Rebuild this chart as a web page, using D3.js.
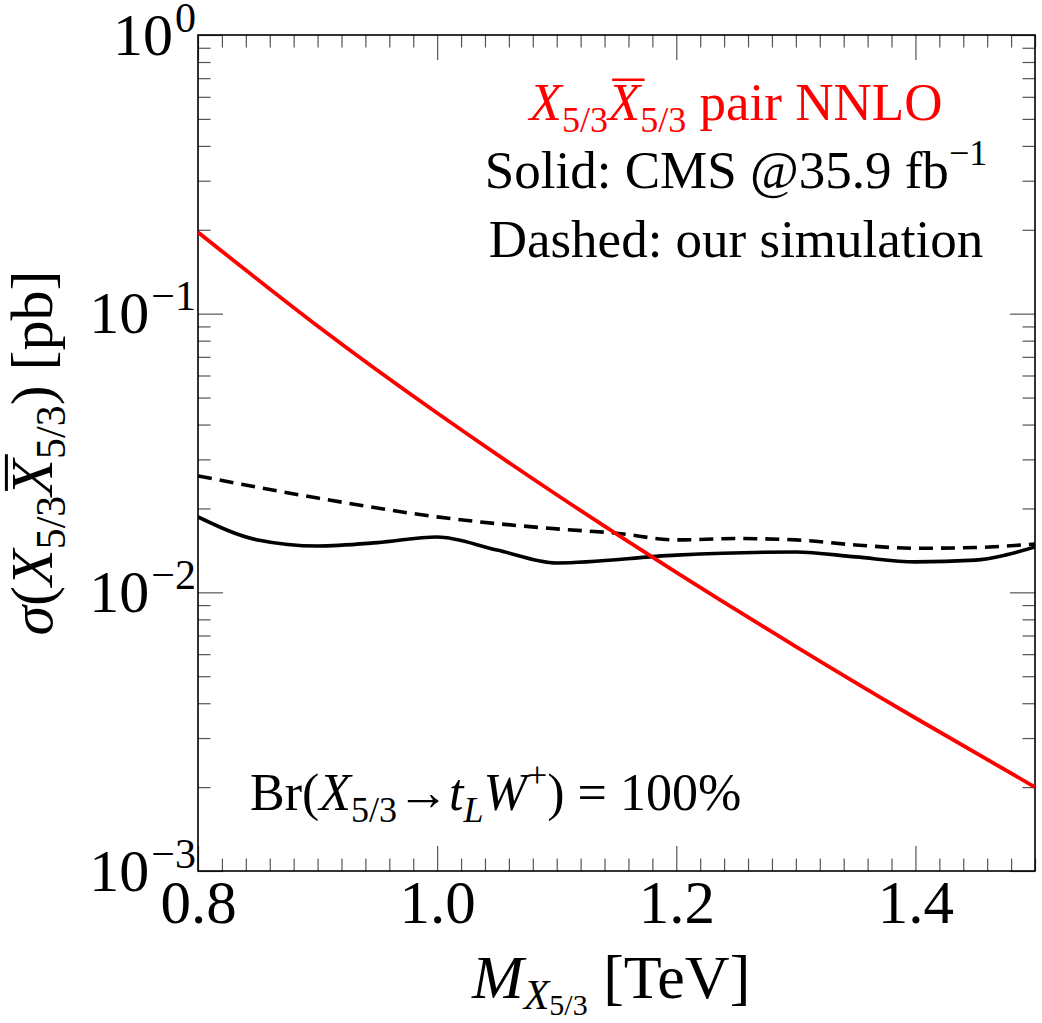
<!DOCTYPE html>
<html>
<head>
<meta charset="utf-8">
<script src="https://cdn.jsdelivr.net/npm/d3@7"></script>
<style>
  html, body { margin: 0; padding: 0; background: #fff; }
  svg { display: block; }
  text { font-family: "Liberation Serif", "Times New Roman", serif; white-space: pre; }
</style>
</head>
<body>
<div id="chart"></div>
<script>
// masses in TeV, cross sections in pb
const nnloMass = [0.8, 0.9, 1.0, 1.1, 1.2, 1.3, 1.4, 1.5];
const nnloXsec = [0.196, 0.0903, 0.0440, 0.0224, 0.0118, 0.00639, 0.00354, 0.00200];

// solid: CMS @35.9 fb^-1
const cmsMass = [0.8, 0.85, 0.9, 0.95, 1.0, 1.05, 1.1, 1.2, 1.3, 1.35, 1.4, 1.45, 1.475, 1.5];
const cmsLimit = [0.01865, 0.01542, 0.01467, 0.01508, 0.0158, 0.01419, 0.01275, 0.0136, 0.01396, 0.0134, 0.01286, 0.01305, 0.0136, 0.01455];

// dashed: our simulation
const simMass = [0.8, 0.9, 1.0, 1.1, 1.15, 1.2, 1.25, 1.3, 1.35, 1.4, 1.45, 1.5];
const simLimit = [0.02616, 0.0218, 0.01865, 0.01689, 0.0163, 0.01542, 0.0156, 0.01542, 0.01479, 0.01439, 0.01448, 0.01491];

const xMajor = [0.8, 1.0, 1.2, 1.4];
const yMajor = [1e-3, 1e-2, 1e-1, 1];
const yExp = ["\u22123", "\u22122", "\u22121", "0"];

const W = 1042, H = 1023;
const pL = 198, pR = 1035, pT = 35, pB = 871;

const svg = d3.select("#chart").append("svg")
    .attr("width", W)
    .attr("height", H);

const x = d3.scaleLinear().domain([0.8, 1.5]).range([pL, pR]);
const y = d3.scaleLog().domain([1e-3, 1]).range([pB, pT]);

// minor ticks
const xMinor = d3.range(0, 36).map(i => +(0.8 + i * 0.02).toFixed(2))
    .filter(v => !xMajor.some(m => Math.abs(m - v) < 1e-6));
const yMinor = [];
[-3, -2, -1].forEach(k => {
    for (let m = 2; m <= 9; m++) yMinor.push(m * Math.pow(10, k));
});

const majLen = 25, minLen = 12.5;
const tickCol = "#555";

function tickAxis(axisFn, scale, vals, len, tr) {
    const g = svg.append("g")
        .attr("transform", tr)
        .call(axisFn(scale).tickValues(vals).tickSizeInner(-len).tickSizeOuter(0).tickFormat(""));
    g.select(".domain").remove();
    g.selectAll(".tick line").attr("stroke", tickCol).attr("stroke-width", 1.2);
    return g;
}

tickAxis(d3.axisBottom, x, xMinor, minLen, `translate(0,${pB})`);
tickAxis(d3.axisBottom, x, xMajor, majLen, `translate(0,${pB})`);
tickAxis(d3.axisTop, x, xMinor, minLen, `translate(0,${pT})`);
tickAxis(d3.axisTop, x, xMajor, majLen, `translate(0,${pT})`);
tickAxis(d3.axisLeft, y, yMinor, minLen, `translate(${pL},0)`);
tickAxis(d3.axisLeft, y, yMajor, majLen, `translate(${pL},0)`);
tickAxis(d3.axisRight, y, yMinor, minLen, `translate(${pR},0)`);
tickAxis(d3.axisRight, y, yMajor, majLen, `translate(${pR},0)`);

// x tick labels
const xLab = svg.append("g")
    .attr("transform", `translate(0,${pB})`)
    .call(d3.axisBottom(x).tickValues(xMajor).tickSize(0).tickPadding(9).tickFormat(d3.format(".1f")));
xLab.select(".domain").remove();
xLab.selectAll("text")
    .attr("font-size", 61)
    .attr("font-family", "Liberation Serif")
    .attr("fill", "#000");

// rich text: segments laid out one after another
function rich(parent, px, py, segs, opts) {
    const outer = parent.append("g")
        .attr("transform", `translate(${px},${py})` + (opts.rotate ? ` rotate(${opts.rotate})` : ""));
    const g = outer.append("g");
    let cx = 0;
    segs.forEach(s => {
        const size = s.size || opts.size;
        const dy = s.dy || 0;
        const t = g.append("text")
            .attr("x", cx)
            .attr("y", dy)
            .attr("font-size", size)
            .attr("font-style", s.it ? "italic" : "normal")
            .attr("fill", opts.fill || "#000")
            .text(s.t);
        const w = t.node().getComputedTextLength();
        if (s.bar) {
            const yy = dy - size * 0.76;
            g.append("line")
                .attr("x1", cx + size * 0.08).attr("x2", cx + w + size * 0.08)
                .attr("y1", yy).attr("y2", yy)
                .attr("stroke", opts.fill || "#000")
                .attr("stroke-width", size * 0.05);
        }
        cx += w + (s.kern || 0);
    });
    const shift = opts.anchor === "end" ? -cx : opts.anchor === "middle" ? -cx / 2 : 0;
    g.attr("transform", `translate(${shift},0)`);
    return outer;
}

// y tick labels 10^k
yMajor.forEach((v, i) => {
    rich(svg, 196, y(v) + 19.5, [
        {t: "10", kern: 2},
        {t: yExp[i], size: 42, dy: -23}
    ], {size: 60, anchor: "end"});
});

// frame
svg.append("rect")
    .attr("x", pL).attr("y", pT)
    .attr("width", pR - pL).attr("height", pB - pT)
    .attr("fill", "none")
    .attr("stroke", "#000")
    .attr("stroke-width", 1.6);

// curves
svg.append("clipPath").attr("id", "plotclip")
    .append("rect")
    .attr("x", pL).attr("y", pT)
    .attr("width", pR - pL).attr("height", pB - pT);

const plot = svg.append("g").attr("clip-path", "url(#plotclip)");

const line = d3.line()
    .x(d => x(d[0]))
    .y(d => y(d[1]))
    .curve(d3.curveMonotoneX);

plot.append("path")
    .attr("d", line(d3.zip(simMass, simLimit)))
    .attr("fill", "none")
    .attr("stroke", "#000")
    .attr("stroke-width", 3.6)
    .attr("stroke-dasharray", "14,8");

plot.append("path")
    .attr("d", line(d3.zip(cmsMass, cmsLimit)))
    .attr("fill", "none")
    .attr("stroke", "#000")
    .attr("stroke-width", 3.6);

plot.append("path")
    .attr("d", line.curve(d3.curveNatural)(d3.zip(nnloMass, nnloXsec)))
    .attr("fill", "none")
    .attr("stroke", "#ff0000")
    .attr("stroke-width", 3.8);

// annotations
const sub = 36;
rich(svg, 736, 120, [
    {t: "X", it: true},
    {t: "5/3", size: sub, dy: 12},
    {t: "X", it: true, bar: true},
    {t: "5/3", size: sub, dy: 12},
    {t: " pair NNLO"}
], {size: 53, anchor: "middle", fill: "#ff0000"});

rich(svg, 736, 188, [
    {t: "Solid: CMS @35.9 fb"},
    {t: "\u22121", size: sub, dy: -23}
], {size: 53, anchor: "middle"});

rich(svg, 736, 257, [
    {t: "Dashed: our simulation"}
], {size: 53, anchor: "middle"});

rich(svg, 250, 810, [
    {t: "Br("},
    {t: "X", it: true},
    {t: "5/3", size: sub, dy: 12},
    {t: "\u2192"},
    {t: "t", it: true},
    {t: "L", it: true, size: sub, dy: 12},
    {t: "W", it: true},
    {t: "+", size: sub, dy: -23},
    {t: ") = 100%"}
], {size: 52});

// axis titles
rich(svg, 472, 998, [
    {t: "M", it: true},
    {t: "X", it: true, size: 42, dy: 11},
    {t: "5/3", size: 30, dy: 17},
    {t: " [TeV]"}
], {size: 62});

rich(svg, 52, (pT + pB) / 2, [
    {t: "\u03c3", it: true},
    {t: "("},
    {t: "X", it: true},
    {t: "5/3", size: 42, dy: 13},
    {t: "X", it: true, bar: true},
    {t: "5/3", size: 42, dy: 13},
    {t: ") [pb]"}
], {size: 60, anchor: "middle", rotate: -90});
</script>
</body>
</html>
